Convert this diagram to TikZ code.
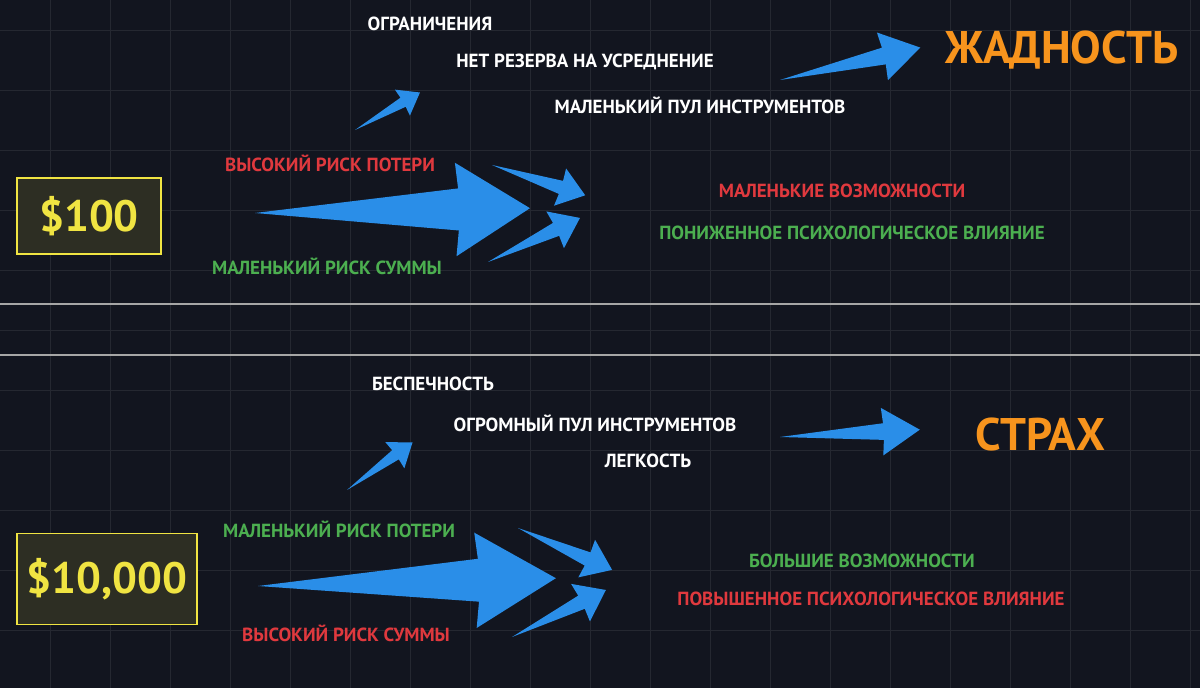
\documentclass[tikz,border=0pt]{standalone}
\usepackage{fontspec}
\setmainfont{PT Sans}
\definecolor{bg}{HTML}{12151F}
\definecolor{arrowblue}{HTML}{2A8EE8}
\definecolor{riskred}{HTML}{E0393E}
\definecolor{okgreen}{HTML}{4CAF50}
\definecolor{titleorange}{HTML}{F7941D}
\definecolor{sumyellow}{HTML}{F0E442}
% tapered arrow: start, angle, length, head half width, shaft share
\newcommand\blarrow[5]{%
  \fill[arrowblue,shift={(#1)},rotate=#2,scale=#3]
    (0,0) -- (0.74,#4*#5) -- (0.73,#4) -- (1,0) -- (0.73,-#4) -- (0.74,-#4*#5) -- cycle;}
\begin{document}
\begin{tikzpicture}[x=0.02cm,y=-0.02cm,
    lbl/.style={font=\bfseries\fontsize{10.8}{12}\selectfont,text=white,inner sep=1pt},
    bad/.style={lbl,text=riskred},
    good/.style={lbl,text=okgreen},
    title/.style={font=\bfseries\fontsize{26}{28}\selectfont,text=titleorange},
    sumbox/.style={draw=sumyellow,fill=sumyellow!12!bg,line width=0.8pt,
      text=sumyellow,font=\bfseries\fontsize{25}{30}\selectfont}]
  \fill[bg] (0,0) rectangle (1200,688);
  \useasboundingbox (0,0) rectangle (1200,688);
  % faint grid
  \foreach \gx in {50,110,...,1200} \draw[white!8!bg] (\gx,0) -- (\gx,688);
  \foreach \gy in {30,90,...,688} \draw[white!8!bg] (0,\gy) -- (1200,\gy);
  \draw[gray!70,line width=1.2pt] (0,304) -- (1200,304);
  \draw[gray!70,line width=1.2pt] (0,355) -- (1200,355);

  %%%% top: $100
  \node[sumbox,minimum width=144*0.02cm,minimum height=76*0.02cm] (small) at (89,216) {\$100};
  \node[lbl] (limits) at (430,24) {ОГРАНИЧЕНИЯ};
  \node[lbl] (reserve) at (585,62) {НЕТ РЕЗЕРВА НА УСРЕДНЕНИЕ};
  \node[lbl] (pool) at (700,105) {МАЛЕНЬКИЙ ПУЛ ИНСТРУМЕНТОВ};
  \node[title] (greed) at (1062,50) {ЖАДНОСТЬ};
  \node[bad] (lossA) at (330,163) {ВЫСОКИЙ РИСК ПОТЕРИ};
  \node[good] (sumA) at (327,266) {МАЛЕНЬКИЙ РИСК СУММЫ};
  \node[bad] (chanceA) at (842,191) {МАЛЕНЬКИЕ ВОЗМОЖНОСТИ};
  \node[good] (psyA) at (852,233) {ПОНИЖЕННОЕ ПСИХОЛОГИЧЕСКОЕ ВЛИЯНИЕ};
  \blarrow{255,213}{1}{275}{0.17}{0.45}
  \blarrow{492,165}{-18}{98}{0.2}{0.35}
  \blarrow{488,262}{25.6}{102}{0.2}{0.35}
  \blarrow{355,130}{30}{75}{0.2}{0.35}
  \blarrow{780,80}{13}{144}{0.17}{0.35}

  %%%% bottom: $10,000
  \node[sumbox,minimum width=180*0.02cm,minimum height=91*0.02cm] (big) at (107,579) {\$10,000};
  \node[lbl] (care) at (433,384) {БЕСПЕЧНОСТЬ};
  \node[lbl] (hugepool) at (595,423) {ОГРОМНЫЙ ПУЛ ИНСТРУМЕНТОВ};
  \node[lbl] (ease) at (648,461) {ЛЕГКОСТЬ};
  \node[title] (fear) at (1040,435) {СТРАХ};
  \node[good] (lossB) at (339,529) {МАЛЕНЬКИЙ РИСК ПОТЕРИ};
  \node[bad] (sumB) at (346,633) {ВЫСОКИЙ РИСК СУММЫ};
  \node[good] (chanceB) at (862,561) {БОЛЬШИЕ ВОЗМОЖНОСТИ};
  \node[bad] (psyB) at (871,599) {ПОВЫШЕННОЕ ПСИХОЛОГИЧЕСКОЕ ВЛИЯНИЕ};
  \blarrow{258,586}{1.5}{298}{0.16}{0.45}
  \blarrow{518,528}{-24}{103}{0.2}{0.35}
  \blarrow{512,637}{26.6}{105}{0.2}{0.35}
  \blarrow{347,490}{36}{81}{0.2}{0.35}
  \blarrow{780,437}{3}{140}{0.17}{0.35}
\end{tikzpicture}
\end{document}
